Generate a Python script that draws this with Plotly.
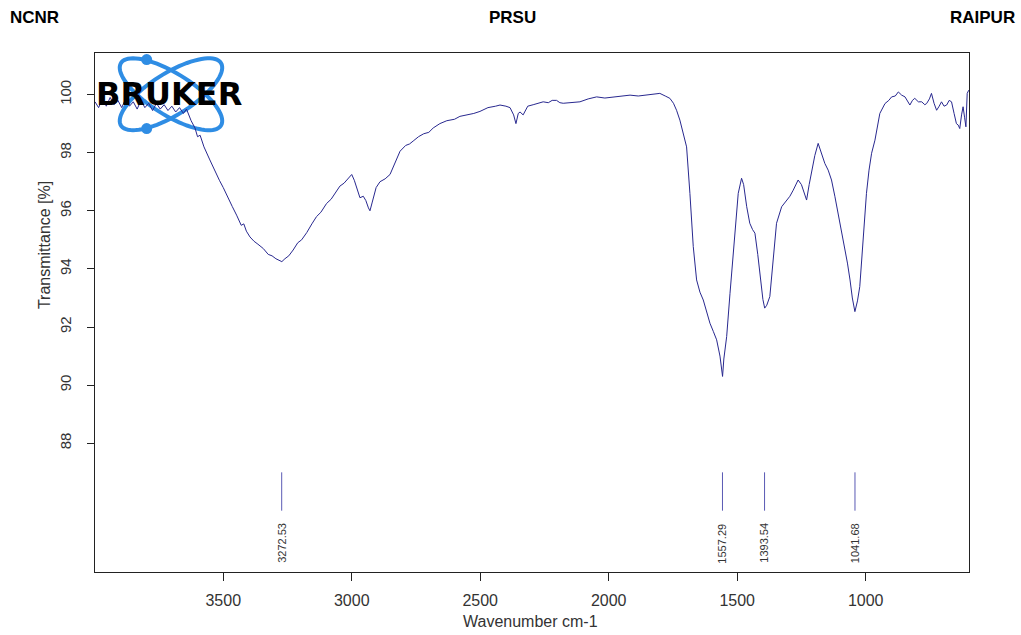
import numpy as np
import plotly.graph_objects as go

# ---------------- data ----------------
wavenumber = [
    3999, 3985, 3970, 3955, 3940, 3925, 3910, 3895, 3880, 3865, 3850, 3835, 3820, 3805,
    3790, 3775, 3760, 3745, 3730, 3715, 3700, 3685, 3670, 3655, 3643, 3625, 3610, 3600,
    3590, 3575, 3552, 3530, 3515, 3500, 3480, 3465, 3448, 3430, 3420, 3410, 3396, 3380,
    3365, 3344, 3325, 3310, 3295, 3280, 3272, 3260, 3245, 3228, 3210, 3195, 3175, 3155,
    3137, 3120, 3098, 3080, 3065, 3046, 3030, 3015, 3000, 2990, 2980, 2968, 2955, 2945,
    2935, 2929, 2920, 2905, 2890, 2870, 2851, 2830, 2812, 2790, 2775, 2761, 2740, 2720,
    2700, 2683, 2657, 2630, 2600, 2579, 2550, 2525, 2501, 2470, 2440, 2423, 2400, 2384,
    2370, 2361, 2352, 2345, 2333, 2315, 2294, 2275, 2255, 2235, 2220, 2203, 2190, 2177,
    2150, 2112, 2080, 2047, 2015, 1982, 1950, 1917, 1885, 1853, 1825, 1801, 1780, 1762,
    1748, 1736, 1723, 1710, 1697, 1684, 1671, 1658, 1645, 1632, 1619, 1606, 1593, 1580,
    1567, 1562, 1557, 1552, 1541, 1528, 1509, 1496, 1483, 1475, 1463, 1455, 1451, 1440,
    1431, 1420, 1412, 1400, 1393, 1385, 1373, 1360, 1347, 1327, 1308, 1295, 1282, 1263,
    1250, 1240, 1230, 1220, 1210, 1198, 1185, 1172, 1159, 1146, 1133, 1120, 1107, 1094,
    1081, 1071, 1061, 1052, 1042, 1032, 1023, 1010, 997, 987, 977, 964, 951, 945,
    925, 910, 899, 885, 873, 860, 847, 837, 828, 818, 809, 795, 782, 770,
    763, 752, 744, 734, 724, 714, 705, 695, 685, 675, 666, 656, 647, 640,
    634, 627, 621, 615, 610, 605, 599,
]
transmittance = [
    99.75, 99.55, 99.85, 99.60, 99.90, 99.65, 99.80, 99.55, 99.85, 99.60, 99.75, 99.50, 99.80, 99.55,
    99.70, 99.45, 99.70, 99.50, 99.65, 99.45, 99.60, 99.40, 99.55, 99.35, 99.50, 99.10, 98.85, 98.55,
    98.60, 98.20, 97.75, 97.30, 97.05, 96.80, 96.40, 96.15, 95.85, 95.50, 95.55, 95.30, 95.10, 94.95,
    94.85, 94.70, 94.50, 94.45, 94.35, 94.30, 94.25, 94.35, 94.45, 94.65, 94.90, 95.00, 95.25, 95.55,
    95.80, 95.95, 96.25, 96.40, 96.60, 96.85, 96.95, 97.10, 97.25, 97.05, 96.75, 96.45, 96.50, 96.35,
    96.10, 96.00, 96.30, 96.80, 97.00, 97.10, 97.25, 97.70, 98.05, 98.25, 98.30, 98.40, 98.55, 98.65,
    98.70, 98.85, 99.00, 99.10, 99.15, 99.25, 99.30, 99.35, 99.42, 99.55, 99.60, 99.64, 99.60, 99.55,
    99.30, 99.00, 99.35, 99.40, 99.30, 99.60, 99.65, 99.70, 99.75, 99.72, 99.80, 99.80, 99.72, 99.70,
    99.72, 99.75, 99.85, 99.92, 99.88, 99.92, 99.95, 99.98, 99.95, 99.98, 100.00, 100.04, 99.95, 99.87,
    99.70, 99.46, 99.12, 98.70, 98.20, 96.60, 94.77, 93.62, 93.20, 92.93, 92.50, 92.13, 91.85, 91.56,
    91.00, 90.60, 90.30, 90.90, 91.67, 93.16, 95.11, 96.60, 97.12, 96.90, 96.14, 95.75, 95.57, 95.35,
    95.23, 94.50, 93.85, 92.95, 92.65, 92.75, 93.05, 94.31, 95.57, 96.14, 96.37, 96.50, 96.71, 97.06,
    96.90, 96.60, 96.37, 96.90, 97.40, 97.90, 98.32, 98.00, 97.63, 97.40, 97.06, 96.50, 95.91, 95.35,
    94.77, 94.20, 93.62, 93.00, 92.53, 92.90, 93.39, 94.99, 96.60, 97.40, 97.98, 98.43, 99.12, 99.35,
    99.69, 99.80, 99.92, 99.95, 100.09, 99.98, 99.92, 99.75, 99.64, 99.80, 99.87, 99.75, 99.75, 99.65,
    99.69, 99.85, 100.04, 99.70, 99.46, 99.60, 99.75, 99.60, 99.64, 99.80, 99.75, 99.35, 99.00, 98.95,
    98.83, 99.30, 99.58, 99.20, 98.89, 100.04, 100.15,
]
peak_positions = [3272.53, 1557.29, 1393.54, 1041.68]
y_ticks = [88, 90, 92, 94, 96, 98, 100]
x_ticks = [3500, 3000, 2500, 2000, 1500, 1000]

# ---------------- layout geometry ----------------
FIG_W, FIG_H = 1021, 635
L, R, T, B = 95, 969.3, 52.7, 572.3
PW, PH = R - L, B - T
X_RANGE = [3999, 598]
Y_RANGE = [83.57, 101.43]


def px_x(p):
    return (p - L) / PW


def px_y(p):
    return (B - p) / PH


LINE_COLOR = "#28288f"
MARK_COLOR = "#5a5ab4"
TEXT_COLOR = "#333333"
FONT = "Liberation Sans, Arial, sans-serif"

fig = go.Figure()
fig.add_trace(go.Scatter(
    x=wavenumber, y=transmittance, mode="lines",
    line=dict(color=LINE_COLOR, width=1), hoverinfo="x+y", showlegend=False,
))

# peak marker ticks + labels
mark_top, mark_bot, label_top = 87.0, 85.68, 85.32
for wn in peak_positions:
    fig.add_shape(type="line", xref="x", yref="y", x0=wn, x1=wn, y0=mark_bot, y1=mark_top,
                  line=dict(color=MARK_COLOR, width=1))
    fig.add_annotation(x=wn, y=label_top, xref="x", yref="y", text=f"{wn:.2f}",
                       textangle=-90, showarrow=False, xanchor="center", yanchor="top",
                       font=dict(family=FONT, size=11, color=TEXT_COLOR))

# Bruker logo: two crossed ellipses + two dots + wordmark
cx, cy, a, b = 171, 94, 59, 21
t = np.linspace(0, 2 * np.pi, 80)
for ang in (32, -32):
    th = np.deg2rad(ang)
    ex = cx + a * np.cos(t) * np.cos(th) - b * np.sin(t) * np.sin(th)
    ey = cy + a * np.cos(t) * np.sin(th) + b * np.sin(t) * np.cos(th)
    path = "M " + " L ".join(f"{px_x(x):.5f},{px_y(y):.5f}" for x, y in zip(ex, ey)) + " Z"
    fig.add_shape(type="path", xref="paper", yref="paper", path=path,
                  line=dict(color="#2f8de4", width=4), layer="below")
for dy in (-34.7, 34.3):
    dx, dyy = 146.7, cy + dy
    r = 5.5
    fig.add_shape(type="circle", xref="paper", yref="paper",
                  x0=px_x(dx - r), x1=px_x(dx + r), y0=px_y(dyy + r), y1=px_y(dyy - r),
                  fillcolor="#2f8de4", line=dict(width=0), layer="below")
fig.add_annotation(x=px_x(169.5), y=px_y(94), xref="paper", yref="paper", text="<b>BRUKER</b>",
                   showarrow=False, xanchor="center", yanchor="middle",
                   font=dict(family="DejaVu Sans", size=32, color="#000000"))

# header texts
hdr_font = dict(family=FONT, size=17, color="#000000")
fig.add_annotation(x=px_x(8), y=px_y(17), xref="paper", yref="paper", text="<b>NCNR</b>",
                   showarrow=False, xanchor="left", yanchor="middle", font=hdr_font)
fig.add_annotation(x=px_x(513), y=px_y(17), xref="paper", yref="paper", text="<b>PRSU</b>",
                   showarrow=False, xanchor="center", yanchor="middle", font=hdr_font)
fig.add_annotation(x=px_x(1017), y=px_y(17), xref="paper", yref="paper", text="<b>RAIPUR</b>",
                   showarrow=False, xanchor="right", yanchor="middle", font=hdr_font)

# axis titles
fig.add_annotation(x=px_x(531), y=px_y(622), xref="paper", yref="paper", text="Wavenumber cm-1",
                   showarrow=False, xanchor="center", yanchor="middle",
                   font=dict(family=FONT, size=16, color=TEXT_COLOR))
fig.add_annotation(x=px_x(44), y=px_y(245), xref="paper", yref="paper", text="Transmittance [%]",
                   showarrow=False, xanchor="center", yanchor="middle", textangle=-90,
                   font=dict(family=FONT, size=16, color=TEXT_COLOR))

fig.update_layout(
    width=FIG_W, height=FIG_H,
    margin=dict(l=L, r=FIG_W - R, t=T, b=FIG_H - B, pad=0),
    paper_bgcolor="white", plot_bgcolor="white",
    showlegend=False,
    xaxis=dict(range=X_RANGE, tickvals=x_ticks, ticktext=[str(v) for v in x_ticks],
               showgrid=False, zeroline=False, showline=True, linecolor="#222222", linewidth=1,
               mirror=True, ticks="outside", ticklen=8, tickcolor="#222222",
               tickfont=dict(family=FONT, size=16, color=TEXT_COLOR), ticklabelstandoff=6),
    yaxis=dict(range=Y_RANGE, tickvals=y_ticks, ticktext=[str(v) for v in y_ticks],
               showgrid=False, zeroline=False, showline=True, linecolor="#222222", linewidth=1,
               mirror=True, ticks="outside", ticklen=7, tickcolor="#222222", tickangle=-90,
               tickfont=dict(family=FONT, size=15, color=TEXT_COLOR), ticklabelstandoff=10),
)

fig.write_html("out.html")
